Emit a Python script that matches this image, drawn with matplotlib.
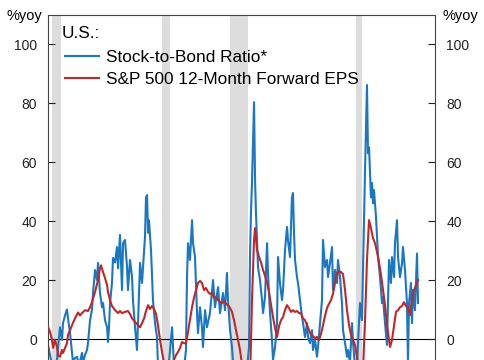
import matplotlib
matplotlib.use('Agg')
import matplotlib.pyplot as plt

plt.rcParams['font.family'] = ['Liberation Sans', 'DejaVu Sans']

# stock-to-bond ratio, %yoy (decimal years)
blue_t = [1990.10, 1990.30, 1990.49, 1990.78, 1990.98, 1991.08, 1991.27, 1991.47, 1991.56, 1991.76,
          1991.95, 1992.05, 1992.25, 1992.44, 1992.54, 1992.73, 1992.93, 1993.12, 1993.42, 1993.51,
          1993.71, 1993.90, 1994.00, 1994.20, 1994.39, 1994.49, 1994.69, 1994.88, 1994.98, 1995.17,
          1995.37, 1995.47, 1995.66, 1995.86, 1995.95, 1996.05, 1996.15, 1996.34, 1996.44, 1996.64,
          1996.83, 1996.93, 1997.12, 1997.32, 1997.42, 1997.61, 1997.81, 1997.90, 1998.10, 1998.30,
          1998.39, 1998.59, 1998.78, 1998.88, 1999.08, 1999.27, 1999.37, 1999.56, 1999.66, 1999.76,
          1999.86, 1999.95, 2000.15, 2000.25, 2000.34, 2000.54, 2000.73, 2000.83, 2001.03, 2001.32,
          2001.61, 2001.90, 2002.20, 2002.39, 2002.69, 2003.08, 2003.37, 2003.56, 2003.66, 2003.76,
          2003.95, 2004.15, 2004.25, 2004.44, 2004.64, 2004.73, 2004.93, 2005.12, 2005.22, 2005.42,
          2005.61, 2005.90, 2006.20, 2006.39, 2006.69, 2006.88, 2007.17, 2007.37, 2007.56, 2007.66,
          2007.86, 2008.05, 2008.15, 2008.44, 2008.83, 2009.22, 2009.51, 2009.71, 2009.81, 2009.90,
          2010.00, 2010.20, 2010.30, 2010.39, 2010.49, 2010.59, 2010.78, 2010.98, 2011.08, 2011.27,
          2011.47, 2011.56, 2011.76, 2011.95, 2012.05, 2012.25, 2012.44, 2012.54, 2012.73, 2012.93,
          2013.03, 2013.22, 2013.42, 2013.51, 2013.71, 2013.90, 2014.00, 2014.10, 2014.20, 2014.39,
          2014.49, 2014.69, 2014.88, 2014.98, 2015.17, 2015.37, 2015.47, 2015.66, 2015.86, 2015.95,
          2016.15, 2016.34, 2016.44, 2016.64, 2016.83, 2016.93, 2017.12, 2017.32, 2017.42, 2017.61,
          2017.81, 2017.90, 2018.10, 2018.30, 2018.39, 2018.59, 2018.78, 2018.88, 2019.08, 2019.27,
          2019.37, 2019.56, 2019.76, 2019.86, 2020.05, 2020.15, 2020.34, 2020.54, 2020.73, 2020.83,
          2021.03, 2021.22, 2021.32, 2021.42, 2021.51, 2021.61, 2021.71, 2021.81, 2021.90, 2022.10,
          2022.20, 2022.30, 2022.49, 2022.69, 2022.78, 2022.98, 2023.17, 2023.27, 2023.37, 2023.56,
          2023.66, 2023.86, 2023.95, 2024.15, 2024.25, 2024.44, 2024.64, 2024.73, 2024.93, 2025.12,
          2025.22, 2025.32, 2025.51, 2025.61, 2025.71, 2025.90, 2026.10, 2026.20]
blue_v = [-2, -5.4, -9, -8, -7, -2.7, 4, -0.3, 5.4, 8,
          10, 7, 2, -4.7, -8, -6.4, -6, -9, -4.7, -8,
          -5.4, -3.7, -1.4, 6.4, 10, 15.6, 23.4, 20, 25.8, 15.6,
          10.8, 12.2, 6.4, 4, -1, 4, 12.2, 19, 27.5, 26,
          31.2, 24, 35.3, 16.6, 32.5, 33.6, 24.4, 16.6, 26.8, 21,
          13.2, 4, -3.7, 5.4, 25.8, 19, 24.4, 34.6, 48, 48.8,
          36, 40.3, 30, 21, 13.2, 5.4, 0.7, -9, -11, -10,
          -12, -8, 4, -9, -12, -11, -10, -3.7, 21, 32.5,
          26.8, 40.3, 32.5, 27.8, 8.8, 2, 10.8, 4, -2.7, 9.8,
          4, 8.8, 20, 10.8, 17.6, 8.8, 15.6, 9.8, 22.4, 13.2,
          3, -2.7, -8, -12, -14, -13, -10.5, -2.7, 29, 42.7,
          52.9, 80.3, 54, 42.7, 33.6, 24.4, 20, 13.2, 8.8, 14.2,
          32.5, 22.4, 8.8, -0.3, -7, -2.7, 5.4, 27.8, 19, 13.2,
          16.6, 30, 38, 33.6, 27.8, 48, 49.5, 36, 26.8, 21,
          19, 13.2, 7.5, 5.4, 0.7, 5.4, 0.7, -1.4, 3, -3.7,
          -0.3, -6, -2.7, 5.4, 13.2, 33.6, 24.4, 26.8, 21, 25.8,
          31.2, 16.6, 23.4, 19, 26.8, 21, 12.2, 3, -1.4, -6,
          -3.7, -8, 5.4, -1.4, -9, -20, -1.4, 12.2, 6.4, 23.4,
          57.3, 86.1, 63, 65, 57.3, 48, 52.9, 46, 50.5, 41.4,
          34.6, 27.8, 21, 12.2, 14.2, 5.4, -2, 13.2, 26.8, 19,
          27.8, 21, 32.5, 40.3, 27.8, 21, 25.8, 31.2, 23.4, 12.2,
          -8, 12.2, 19, 5.4, 16.6, 9.8, 29, 12.2]

# S&P 500 12-month forward EPS, %yoy
red_t = [1990.10, 1990.30, 1990.49, 1990.59, 1990.78, 1990.98, 1991.08, 1991.27, 1991.47, 1991.56,
         1991.76, 1991.95, 1992.05, 1992.25, 1992.44, 1992.73, 1993.03, 1993.22, 1993.42, 1993.71,
         1994.00, 1994.20, 1994.39, 1994.69, 1994.98, 1995.17, 1995.27, 1995.47, 1995.66, 1995.86,
         1995.95, 1996.15, 1996.34, 1996.64, 1996.93, 1997.12, 1997.32, 1997.61, 1997.90, 1998.10,
         1998.30, 1998.59, 1998.88, 1999.08, 1999.27, 1999.47, 1999.66, 1999.86, 2000.05, 2000.25,
         2000.44, 2000.64, 2000.83, 2001.03, 2001.22, 2001.42, 2001.61, 2001.81, 2002.00, 2002.20,
         2002.39, 2002.59, 2002.78, 2002.98, 2003.17, 2003.37, 2003.56, 2003.76, 2003.95, 2004.15,
         2004.34, 2004.54, 2004.73, 2004.93, 2005.12, 2005.32, 2005.51, 2005.71, 2005.90, 2006.10,
         2006.30, 2006.49, 2006.69, 2006.88, 2007.08, 2007.27, 2007.47, 2007.66, 2007.86, 2008.05,
         2008.25, 2008.44, 2008.64, 2008.83, 2009.03, 2009.22, 2009.51, 2009.81, 2010.00, 2010.20,
         2010.30, 2010.49, 2010.69, 2010.88, 2011.08, 2011.27, 2011.47, 2011.66, 2011.86, 2012.05,
         2012.25, 2012.44, 2012.64, 2012.83, 2013.03, 2013.22, 2013.42, 2013.61, 2013.81, 2014.00,
         2014.20, 2014.39, 2014.59, 2014.78, 2014.98, 2015.17, 2015.37, 2015.56, 2015.76, 2015.95,
         2016.15, 2016.34, 2016.54, 2016.73, 2016.93, 2017.12, 2017.32, 2017.51, 2017.71, 2017.90,
         2018.10, 2018.30, 2018.49, 2018.69, 2018.88, 2019.08, 2019.27, 2019.47, 2019.66, 2019.86,
         2020.05, 2020.25, 2020.44, 2020.64, 2020.83, 2021.03, 2021.22, 2021.42, 2021.61, 2021.81,
         2022.00, 2022.20, 2022.39, 2022.59, 2022.78, 2022.98, 2023.17, 2023.37, 2023.47, 2023.66,
         2023.86, 2024.05, 2024.25, 2024.44, 2024.64, 2024.83, 2025.03, 2025.22, 2025.42, 2025.61,
         2025.81, 2026.00, 2026.20]
red_v = [4, 2.4, -0.3, -3, -0.3, -2.7, -5.4, -6, -3.7, -4.7,
         -3, -1.4, 1.4, 3, 4.7, 7, 9, 8, 8.8, 9.8,
         9.5, 10.8, 12.5, 16, 20, 24, 25, 22.7, 20.7, 18.3,
         16, 13.2, 11.2, 9.8, 8.8, 9.5, 8.8, 9.2, 9.5, 8.5,
         7, 5.8, 4.7, 4, 5.4, 7, 9.5, 11.5, 10.2, 11.2,
         10.2, 8.5, 4.7, -0.3, -4.4, -8, -10.5, -11.5, -11.2, -8.8,
         -7, -5.4, -4.4, -3, -1, -1.4, -1.4, 2.4, 6.4, 10.8,
         14, 16.6, 19, 19.7, 19, 16.6, 17.3, 16, 15.3, 15.6,
         14, 14.2, 13.2, 12.5, 12.2, 12.9, 11.9, 11.5, 10.5, 9.2,
         6.4, 3, -0.3, -3.7, -8.8, -15.6, -20.7, -14, 13.2, 33.6,
         37.6, 30.2, 27.8, 26, 23.4, 21.4, 19.3, 16, 11.5, 7.5,
         3.7, 0.7, 4.4, 6.4, 7.5, 9.8, 11.5, 10.5, 9.2, 9.8,
         9.2, 9.5, 8.8, 8.8, 7, 6.4, 4.7, 3, 1.4, 1,
         0.3, 0.7, -0.3, 1.7, 4.7, 7.8, 10.5, 11.9, 13.2, 15.3,
         19, 22.4, 23, 22.7, 22, 16.6, 9.8, 4.7, 1.4, -0.3,
         -2, -6.4, -12.2, -15.6, -10.5, 6.4, 26.8, 40.3, 37.6, 34.2,
         32.5, 29.5, 26, 21.7, 16.6, 11.5, 4.7, -0.3, -2.7, -0.3,
         4.7, 9.2, 9.8, 10.8, 11.2, 12.5, 11.2, 10.5, 8.1, 13.2,
         16.6, 18.3, 20]

# recession shading (start, end)
rec_start = [1990.49, 2001.22, 2007.86, 2020.15]
rec_end = [1991.37, 2002.00, 2009.61, 2020.73]

yticks = [0, 20, 40, 60, 80, 100]

fig = plt.figure(figsize=(4.85, 3.6), dpi=100)
ax = fig.add_axes([0.099, 0.0, 0.798, 0.958])

for s, e in zip(rec_start, rec_end):
    ax.axvspan(s, e, color='#dcdcdc', lw=0, zorder=0)

ax.axhline(0, color='black', lw=0.8, zorder=1)
ax.plot(blue_t, blue_v, color='#1a78c2', lw=1.5, label='Stock-to-Bond Ratio*', zorder=2)
ax.plot(red_t, red_v, color='#c0272d', lw=1.5, label='S&P 500 12-Month Forward EPS', zorder=3)

ax.set_xlim(1990.10, 2027.86)
ax.set_ylim(-7.1, 109.8)
ax.set_xticks([])
ax.set_yticks(yticks)
ax.tick_params(axis='y', direction='in', length=5, width=0.8, labelsize=10,
               left=True, right=True, labelleft=True, labelright=True, pad=8,
               colors='#222222')
for sp in ['left', 'right', 'top']:
    ax.spines[sp].set_color('#444444')
    ax.spines[sp].set_linewidth(0.8)
ax.spines['bottom'].set_visible(False)

ax.text(-0.015, 0.997, '%yoy', transform=ax.transAxes, ha='right', va='center', fontsize=10.5)
ax.text(1.02, 0.997, '%yoy', transform=ax.transAxes, ha='left', va='center', fontsize=10.5)

ax.text(0.036, 0.934, 'U.S.:', transform=ax.transAxes, ha='left', va='baseline', fontsize=12.4)
ax.legend(loc='upper left', bbox_to_anchor=(0.044, 0.900),
          frameon=False, fontsize=12.4,
          handlelength=2.0, handletextpad=0.4, labelspacing=0.4,
          borderpad=0, borderaxespad=0)

fig.savefig('out.png', dpi=100)
